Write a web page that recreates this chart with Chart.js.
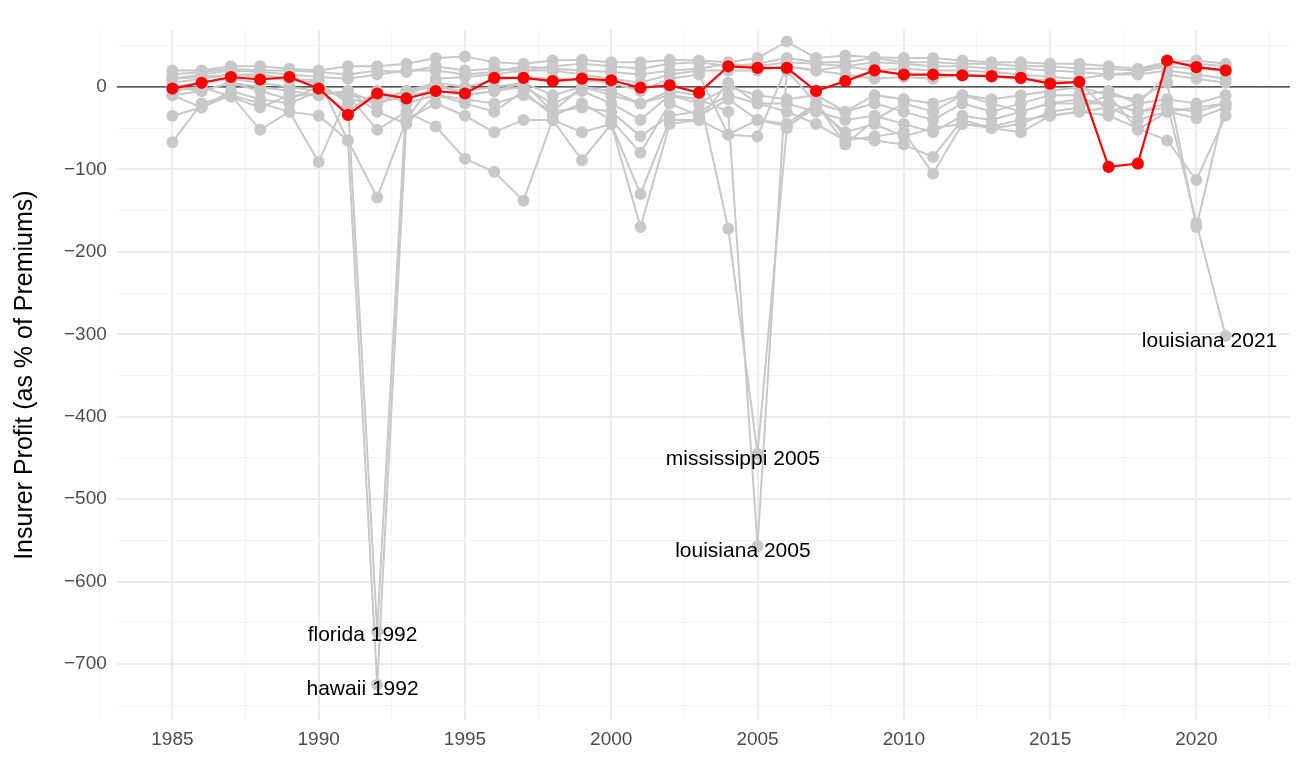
<!DOCTYPE html>
<html><head><meta charset="utf-8">
<script src="https://cdn.jsdelivr.net/npm/chart.js@4"></script>
<style>body{margin:0;background:#fff}#wrap{width:1312px;height:759px}</style>
</head><body><div id="wrap"><canvas id="c"></canvas></div>
<script>
const years = [];
for (let y = 1985; y <= 2021; y++) years.push(y);

// highlighted (national) series
const national = [-2,5,12,9,12,-2,-34,-8,-14,-5,-8,11,11,7,10,8,-1,2,-7,25,23,23,-5,7,20,15,15,14,13,11,4,6,-97,-93,32,24,20];

// individual states (grey), read approximately
const florida     = [5,10,15,12,8,5,-20,-660,-10,5,0,8,12,10,8,5,-5,10,15,-58,-60,25,20,15,10,12,10,15,12,10,8,5,-30,-20,15,10,5];
const hawaii      = [10,12,15,15,10,8,-65,-725,-40,10,12,15,20,20,15,10,5,15,20,20,20,25,20,25,20,22,20,20,18,15,12,10,15,15,20,15,10];
const louisiana   = [-10,-5,5,0,-5,-10,-5,-20,-10,-5,-10,-5,5,-10,0,-10,-20,-10,-15,-30,-557,20,-20,-70,-40,-20,-30,-10,-20,-30,-20,-20,-20,-30,-20,-165,-302];
const mississippi = [0,5,10,5,0,-5,-10,-15,-5,0,-5,0,5,-30,0,-5,-20,-5,-10,-172,-445,-50,-20,-30,-10,-15,-20,-10,-15,-10,-5,0,-10,-15,5,-170,-20];
const texas       = [-67,-20,-10,-20,-30,-35,-65,-134,-40,-20,-35,-55,-40,-40,-55,-45,-170,-45,-40,5,-20,-30,-45,-65,-60,-55,-105,-45,-50,-55,-35,-30,-35,-50,-65,-113,-35];
const oklahoma    = [-35,-25,-10,-52,-30,-91,-10,-52,-30,-48,-87,-103,-138,-40,-89,-45,-130,-40,-40,-58,-40,-45,-20,-60,-65,-70,-85,-40,-50,-45,-30,-25,-10,-52,-30,-38,-25];
const alabama     = [20,20,25,25,22,20,25,25,28,35,37,30,28,32,33,30,30,33,32,30,35,55,35,38,36,35,35,32,30,30,28,28,25,22,30,32,28];
const georgia     = [15,18,22,20,20,18,15,20,18,25,20,22,20,25,28,25,22,28,30,25,28,35,30,30,35,30,30,28,28,25,25,22,22,20,28,28,25];
const carolina    = [-5,0,-12,-25,-10,-10,-5,-30,-45,-10,-20,-30,-5,-35,-20,-40,-80,-20,-35,-15,-40,-48,-25,-55,-45,-60,-50,-45,-48,-40,-35,-30,-25,-40,-30,-25,-20];
const kansas      = [-10,-25,-5,-15,-20,-5,-30,-5,-20,-10,-15,-20,-10,-30,-25,-30,-60,-35,-30,-10,-20,-20,-30,-40,-35,-45,-55,-35,-40,-30,-20,-15,-20,-30,-25,-30,-20];
const vermont     = [10,15,20,18,15,12,10,15,20,20,15,18,25,22,20,18,15,20,22,28,25,30,28,25,30,28,25,25,22,22,20,18,15,18,25,22,20];
const iowa        = [0,-5,5,-5,-15,0,-15,-20,-5,5,-10,-5,0,-20,-5,-20,-40,-10,-20,0,-10,-15,-10,-30,-20,-30,-40,-20,-30,-20,-10,-10,-5,-20,-15,-20,-10];

const greyStates = [florida, hawaii, louisiana, mississippi, texas, oklahoma, alabama, georgia, carolina, kansas, vermont, iowa];

const labelText = ['florida 1992','hawaii 1992','mississippi 2005','louisiana 2005','louisiana 2021'];
const labelX    = [1991.5, 1991.5, 2004.5, 2004.5, 2020.45];
const labelY    = [-665, -730, -451, -563, -308];

const toPts = arr => arr.map((v, i) => ({x: years[i], y: v}));

// first dataset is drawn on top in Chart.js
const datasets = [{
  data: toPts(national), borderColor: '#ff0000', backgroundColor: '#ff0000',
  borderWidth: 2.2, pointRadius: 5, pointHoverRadius: 5
}];
greyStates.forEach(s => datasets.push({
  data: toPts(s), borderColor: '#c8c8c8', backgroundColor: '#c8c8c8',
  borderWidth: 2, pointRadius: 5, pointHoverRadius: 5
}));

const textPlugin = {
  id: 'labels',
  beforeDatasetsDraw(chart) {
    const {ctx, scales: {y}} = chart;
    ctx.save();
    ctx.strokeStyle = '#000'; ctx.lineWidth = 1;
    ctx.beginPath();
    ctx.moveTo(chart.chartArea.left, y.getPixelForValue(0));
    ctx.lineTo(chart.chartArea.right, y.getPixelForValue(0));
    ctx.stroke();
    ctx.restore();
  },
  afterDatasetsDraw(chart) {
    const {ctx, scales: {x, y}} = chart;
    ctx.save();
    ctx.fillStyle = '#000';
    ctx.font = '21px "Liberation Sans", Arial, sans-serif';
    ctx.textAlign = 'center'; ctx.textBaseline = 'middle';
    labelText.forEach((t, i) => ctx.fillText(t, x.getPixelForValue(labelX[i]), y.getPixelForValue(labelY[i])));
    ctx.restore();
  }
};

const ticksFrom = (a, b, step) => { const t = []; for (let v = a; v <= b + 1e-9; v += step) t.push({value: v}); return t; };
const font = {size: 19, family: '"Liberation Sans", Arial, sans-serif'};

new Chart(document.getElementById('c'), {
  type: 'line',
  data: {datasets},
  plugins: [textPlugin],
  options: {
    responsive: true, maintainAspectRatio: false, animation: false,
    layout: {padding: {top: 30, right: 22, left: 10, bottom: 0}},
    plugins: {legend: {display: false}, tooltip: {enabled: false}},
    scales: {
      x: {
        type: 'linear', min: 1983.1, max: 2023.2,
        afterBuildTicks: s => { s.ticks = ticksFrom(1982.5, 2022.5, 2.5); },
        grid: {color: c => c.tick && c.tick.value % 5 === 0 ? '#ebebeb' : '#f3f3f3', lineWidth: c => c.tick && c.tick.value % 5 === 0 ? 2 : 1, drawTicks: false},
        border: {display: false},
        ticks: {color: '#4d4d4d', font, padding: 8, maxRotation: 0, autoSkip: false,
          callback: v => v % 5 === 0 ? v : ''}
      },
      y: {
        min: -768, max: 69,
        afterBuildTicks: s => { s.ticks = ticksFrom(-750, 50, 50); },
        grid: {color: c => c.tick && c.tick.value % 100 === 0 ? '#ebebeb' : '#f3f3f3', lineWidth: c => c.tick && c.tick.value % 100 === 0 ? 2 : 1, drawTicks: false},
        border: {display: false},
        title: {display: true, text: 'Insurer Profit (as % of Premiums)', color: '#000', padding: {top: 0, bottom: 14},
          font: {size: 25, family: '"Liberation Sans", Arial, sans-serif'}},
        ticks: {color: '#4d4d4d', font, padding: 10, autoSkip: false,
          callback: v => v % 100 === 0 ? String(v).replace('-', '\u2212') : ''}
      }
    }
  }
});
</script>
</body></html>
